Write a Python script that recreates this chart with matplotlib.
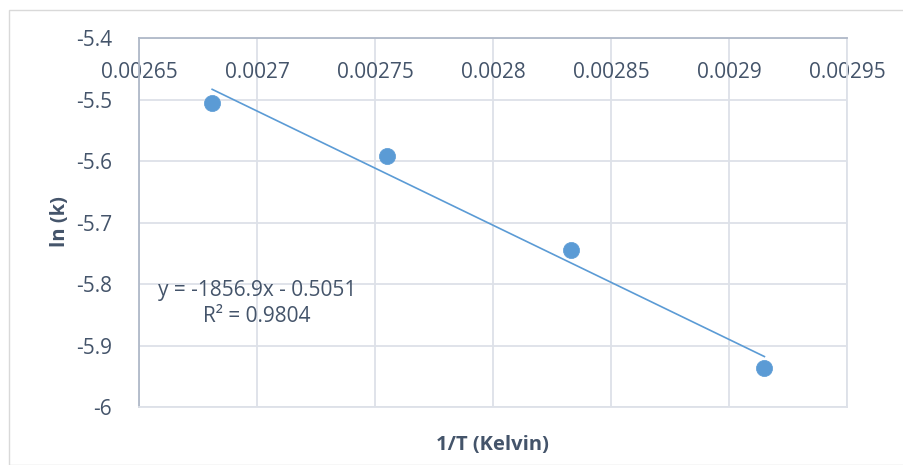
import matplotlib
matplotlib.use("Agg")
import matplotlib.pyplot as plt
from matplotlib.patches import Rectangle
import numpy as np

# Arrhenius data: inverse temperature vs natural log of the rate constant
inv_T = [0.002681, 0.002755, 0.002833, 0.002915]
ln_k = [-5.506, -5.592, -5.745, -5.937]

# Linear trendline reported on the chart
slope = -1856.9
intercept = -0.5051
r_squared = 0.9804

x_ticks = [0.00265, 0.0027, 0.00275, 0.0028, 0.00285, 0.0029, 0.00295]
x_tick_labels = ["0.00265", "0.0027", "0.00275", "0.0028", "0.00285", "0.0029", "0.00295"]
y_ticks = [-5.4, -5.5, -5.6, -5.7, -5.8, -5.9, -6.0]
y_tick_labels = ["-5.4", "-5.5", "-5.6", "-5.7", "-5.8", "-5.9", "-6"]

plt.rcParams["font.family"] = ["Open Sans", "DejaVu Sans"]
text_color = "#44546A"
grid_color = "#DDE1E8"
axis_color = "#B0B9C8"
blue = "#5B9BD5"

fig = plt.figure(figsize=(9.04, 4.65), dpi=100)
W, H = 904, 465

# Chart frame
fig.patches.append(Rectangle((9 / W, 0), 1.0, 1 - 10 / H, transform=fig.transFigure,
                             fill=False, edgecolor="#D9D9D9", linewidth=1.0))

left, right, top, bottom = 139, 847, 38, 407
ax = fig.add_axes([left / W, 1 - bottom / H, (right - left) / W, (bottom - top) / H])

ax.set_xlim(0.00265, 0.00295)
ax.set_ylim(-6.0, -5.4)
ax.set_xticks(x_ticks)
ax.set_xticklabels(x_tick_labels)
ax.set_yticks(y_ticks)
ax.set_yticklabels(y_tick_labels)

ax.grid(True, color=grid_color, linewidth=1.3)
ax.set_axisbelow(True)
for side in ["bottom", "right"]:
    ax.spines[side].set_color(grid_color)
    ax.spines[side].set_linewidth(1.3)
for side in ["top", "left"]:
    ax.spines[side].set_color(axis_color)
    ax.spines[side].set_linewidth(1.3)

ax.tick_params(axis="x", bottom=False, labelbottom=False, top=False, labeltop=True,
               pad=-36, labelsize=15, labelcolor=text_color)
ax.tick_params(axis="y", left=False, pad=16, labelsize=15, labelcolor=text_color)

# Trendline over the span of the data
xs = np.array([min(inv_T), max(inv_T)])
ax.plot(xs, slope * xs + intercept, color=blue, linewidth=1.2, zorder=2)
ax.scatter(inv_T, ln_k, s=135, color=blue, edgecolors=blue, linewidths=0.5, zorder=3)

ax.text(0.0027, -5.832, f"y = {slope}x - {abs(intercept)}\nR² = {r_squared}",
        ha="center", va="center", fontsize=15, color=text_color, linespacing=1.35)

fig.text(492 / W, 1 - 445 / H, "1/T (Kelvin)", ha="center", va="center",
         fontsize=14.5, fontweight="bold", color=text_color)
fig.text(60 / W, 1 - 222 / H, "ln (k)", ha="center", va="center", rotation=90,
         fontsize=14.5, fontweight="bold", color=text_color)

fig.savefig("out.png", dpi=100)
